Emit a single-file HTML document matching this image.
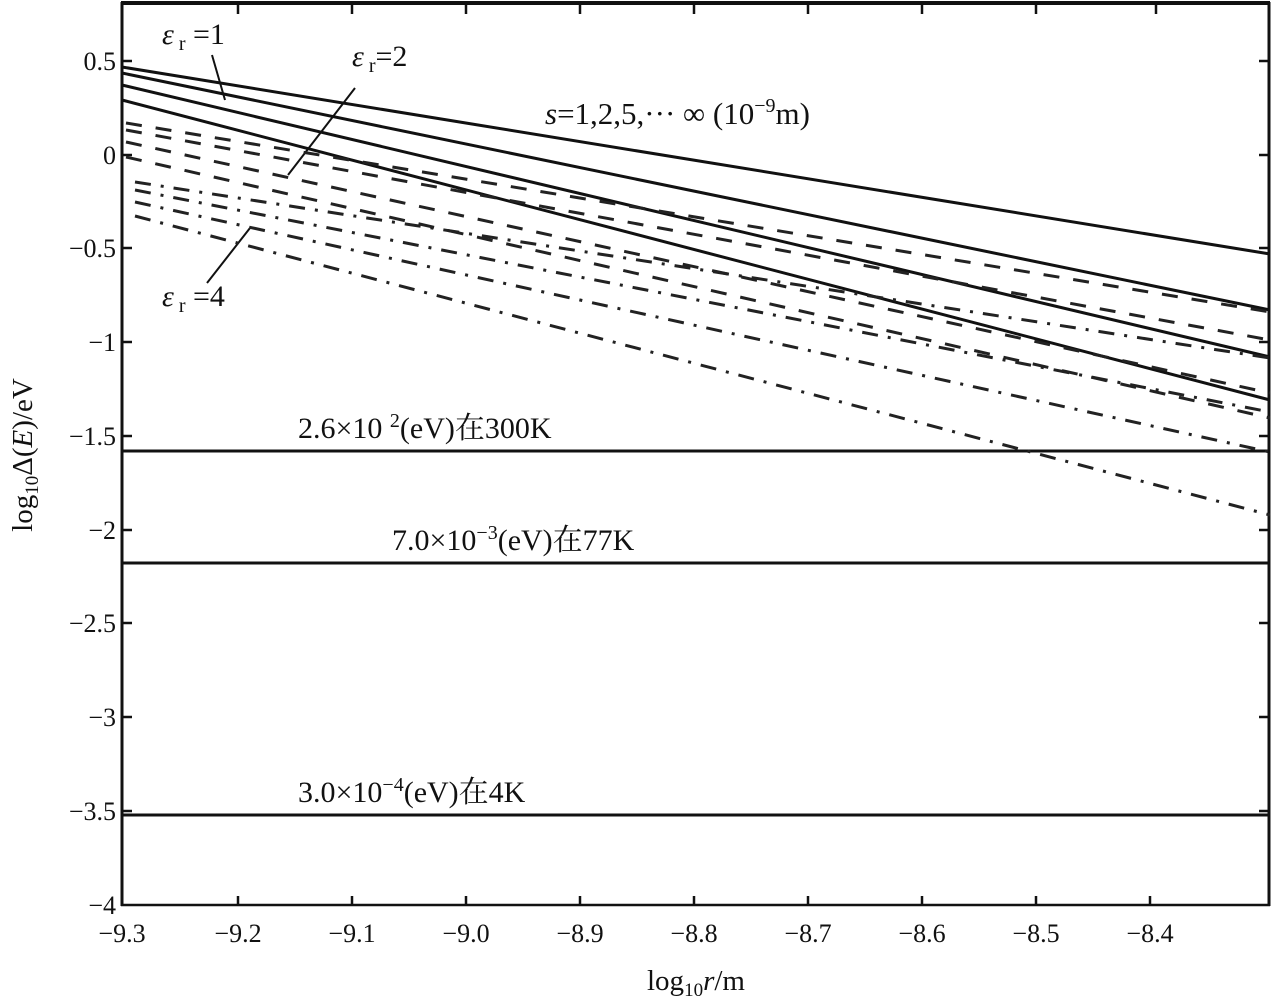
<!DOCTYPE html>
<html><head><meta charset="utf-8"><style>
body{margin:0;background:#fff}
svg text{font-family:"Liberation Serif","Noto Serif CJK SC",serif;fill:#111}
</style></head><body>
<svg width="1272" height="1003" viewBox="0 0 1272 1003" xmlns="http://www.w3.org/2000/svg">
<rect x="0" y="0" width="1272" height="1003" fill="#fff"/>
<line x1="122" y1="2" x2="122" y2="906" stroke="#111" stroke-width="3"/>
<line x1="121" y1="905" x2="1270" y2="905" stroke="#111" stroke-width="2.5"/>
<line x1="1269" y1="2" x2="1269" y2="906" stroke="#111" stroke-width="3"/>
<line x1="121" y1="3" x2="1270" y2="3" stroke="#111" stroke-width="4"/>
<g stroke="#111" stroke-width="2.5">
<line x1="122" y1="61" x2="132" y2="61"/><line x1="122" y1="155" x2="132" y2="155"/><line x1="122" y1="248" x2="132" y2="248"/><line x1="122" y1="342" x2="132" y2="342"/><line x1="122" y1="436" x2="132" y2="436"/><line x1="122" y1="530" x2="132" y2="530"/><line x1="122" y1="623" x2="132" y2="623"/><line x1="122" y1="717" x2="132" y2="717"/><line x1="122" y1="811" x2="132" y2="811"/>
<line x1="1269" y1="61" x2="1259" y2="61"/><line x1="1269" y1="155" x2="1259" y2="155"/><line x1="1269" y1="248" x2="1259" y2="248"/><line x1="1269" y1="342" x2="1259" y2="342"/><line x1="1269" y1="436" x2="1259" y2="436"/><line x1="1269" y1="530" x2="1259" y2="530"/><line x1="1269" y1="623" x2="1259" y2="623"/><line x1="1269" y1="717" x2="1259" y2="717"/><line x1="1269" y1="811" x2="1259" y2="811"/>
<line x1="238" y1="905" x2="238" y2="896"/><line x1="352" y1="905" x2="352" y2="896"/><line x1="466" y1="905" x2="466" y2="896"/><line x1="580" y1="905" x2="580" y2="896"/><line x1="694" y1="905" x2="694" y2="896"/><line x1="808" y1="905" x2="808" y2="896"/><line x1="922" y1="905" x2="922" y2="896"/><line x1="1036" y1="905" x2="1036" y2="896"/><line x1="1150" y1="905" x2="1150" y2="896"/>
<line x1="238" y1="3" x2="238" y2="14"/><line x1="352" y1="3" x2="352" y2="14"/><line x1="466" y1="3" x2="466" y2="14"/><line x1="580" y1="3" x2="580" y2="14"/><line x1="694" y1="3" x2="694" y2="14"/><line x1="808" y1="3" x2="808" y2="14"/><line x1="922" y1="3" x2="922" y2="14"/><line x1="1036" y1="3" x2="1036" y2="14"/><line x1="1156" y1="3" x2="1156" y2="14"/>
</g>
<g font-size="26" text-anchor="end">
<text x="116" y="70">0.5</text><text x="116" y="164">0</text><text x="116" y="257">−0.5</text><text x="116" y="351">−1</text><text x="116" y="445">−1.5</text><text x="116" y="539">−2</text><text x="116" y="632">−2.5</text><text x="116" y="726">−3</text><text x="116" y="820">−3.5</text><text x="116" y="914">−4</text>
</g>
<g font-size="26" text-anchor="middle">
<text x="122" y="942">−9.3</text><text x="238" y="942">−9.2</text><text x="352" y="942">−9.1</text><text x="466" y="942">−9.0</text><text x="580" y="942">−8.9</text><text x="694" y="942">−8.8</text><text x="808" y="942">−8.7</text><text x="922" y="942">−8.6</text><text x="1036" y="942">−8.5</text><text x="1150" y="942">−8.4</text>
</g>
<text x="696" y="990" font-size="29" text-anchor="middle">log<tspan font-size="19" dy="6">10</tspan><tspan dy="-6" font-style="italic">r</tspan>/m</text>
<text transform="translate(32,455) rotate(-90)" font-size="29" text-anchor="middle">log<tspan font-size="19" dy="6">10</tspan><tspan dy="-6">Δ(</tspan><tspan font-style="italic">E</tspan>)/eV</text>
<g stroke="#111" stroke-width="3">
<line x1="122" y1="451" x2="1270" y2="451"/>
<line x1="122" y1="563" x2="1270" y2="563"/>
<line x1="122" y1="815" x2="1270" y2="815"/>
</g>
<g font-size="30">
<text x="298" y="438">2.6×10 <tspan font-size="20" dy="-11">2</tspan><tspan dy="11">(eV)在300K</tspan></text>
<text x="392" y="550">7.0×10<tspan font-size="20" dy="-11">−3</tspan><tspan dy="11">(eV)在77K</tspan></text>
<text x="298" y="802">3.0×10<tspan font-size="20" dy="-11">−4</tspan><tspan dy="11">(eV)在4K</tspan></text>
<text x="545" y="124" font-size="31"><tspan font-style="italic">s</tspan>=1,2,5,··· ∞  (10<tspan font-size="20" dy="-12">−9</tspan><tspan dy="12">m)</tspan></text>
<text x="162" y="44" font-size="30" font-family="Liberation Sans"><tspan font-style="italic" font-family="Liberation Serif">ε</tspan><tspan font-size="20" dy="6"> r</tspan><tspan dy="-6"> =1</tspan></text>
<text x="352" y="66" font-size="30" font-family="Liberation Sans"><tspan font-style="italic" font-family="Liberation Serif">ε</tspan><tspan font-size="20" dy="6"> r</tspan><tspan dy="-6">=2</tspan></text>
<text x="162" y="306" font-size="30" font-family="Liberation Sans"><tspan font-style="italic" font-family="Liberation Serif">ε</tspan><tspan font-size="20" dy="6"> r</tspan><tspan dy="-6"> =4</tspan></text>
</g>
<g stroke="#111" stroke-width="2">
<line x1="212" y1="55" x2="225" y2="100"/>
<line x1="355" y1="88" x2="288" y2="175"/>
<line x1="207" y1="283" x2="250" y2="228"/>
</g>
<g stroke="#111" stroke-width="3" fill="none">
<line x1="122" y1="67" x2="1270" y2="254"/>
<line x1="122" y1="73" x2="1270" y2="310"/>
<line x1="122" y1="85" x2="1270" y2="357"/>
<line x1="122" y1="100" x2="1270" y2="400"/>
</g>
<g stroke="#222" stroke-width="3" fill="none" stroke-dasharray="16,14">
<line x1="126" y1="123" x2="1270" y2="312"/>
<line x1="126" y1="130" x2="1270" y2="340"/>
<line x1="126" y1="142" x2="1270" y2="393"/>
<line x1="126" y1="157" x2="1270" y2="418"/>
</g>
<g stroke="#222" stroke-width="3" fill="none" stroke-dasharray="16,10,3,10">
<line x1="135" y1="182" x2="1270" y2="358"/>
<line x1="135" y1="190" x2="1270" y2="412"/>
<line x1="135" y1="202" x2="1270" y2="452"/>
<line x1="135" y1="216" x2="1270" y2="515"/>
</g>
</svg>
</body></html>
